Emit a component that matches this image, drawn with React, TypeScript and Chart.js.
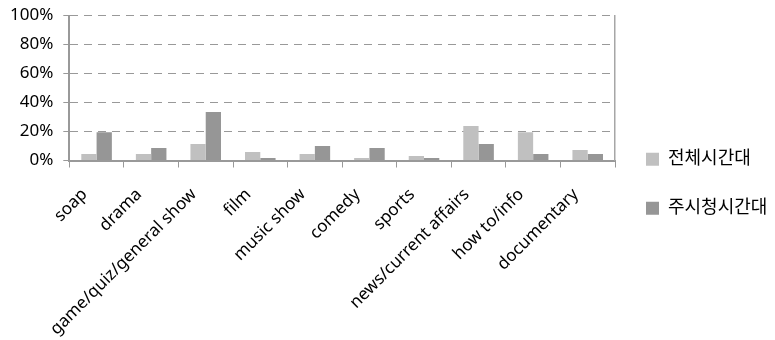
import React, { useEffect, useRef } from "react";
import { Chart, registerables } from "chart.js";

Chart.register(...registerables);

const CATEGORIES = [
  "soap",
  "drama",
  "game/quiz/general show",
  "film",
  "music show",
  "comedy",
  "sports",
  "news/current affairs",
  "how to/info",
  "documentary",
];
const SERIES_ALL_NAME = "전체시간대";
const SERIES_ALL = [4.5, 4.5, 11.4, 5.9, 4.5, 1.7, 3.1, 23.8, 19.4, 7.2];
const SERIES_PRIME_NAME = "주시청시간대";
const SERIES_PRIME = [19.4, 8.6, 33.4, 1.7, 10, 8.6, 1.7, 11.4, 4.5, 4.5];
const Y_MAX = 100;
const Y_STEP = 20;

const FONT_FAMILY = "'Noto Sans', 'Noto Sans CJK KR', sans-serif";

export default function App() {
  const canvasRef = useRef<HTMLCanvasElement | null>(null);

  useEffect(() => {
    if (!canvasRef.current) return;
    const chart = new Chart(canvasRef.current, {
      type: "bar",
      data: {
        labels: CATEGORIES,
        datasets: [
          {
            label: SERIES_ALL_NAME,
            data: SERIES_ALL,
            xAxisID: "x",
            yAxisID: "y",
            backgroundColor: "#c0c0c0",
            borderWidth: 0,
            categoryPercentage: 0.56,
            barPercentage: 1,
          },
          {
            label: SERIES_PRIME_NAME,
            data: SERIES_PRIME,
            xAxisID: "x",
            yAxisID: "y",
            backgroundColor: "#969696",
            borderWidth: 0,
            categoryPercentage: 0.56,
            barPercentage: 1,
          },
        ],
      },
      options: {
        responsive: false,
        animation: false,
        layout: { padding: { left: 0, top: 15.5, right: 0, bottom: 0 } },
        font: { family: FONT_FAMILY, size: 17 },
        plugins: {
          tooltip: { enabled: false },
          legend: {
            position: "right",
            align: "center",
            maxWidth: 160,
            title: { display: true, text: "", font: { size: 10 }, padding: 0 },
            labels: {
              boxWidth: 13,
              boxHeight: 13,
              padding: 31,
              color: "#000",
              font: { family: FONT_FAMILY, size: 18 },
            },
          },
        },
        scales: {
          x: {
            type: "category",
            afterFit: (scale: any) => {
              scale.height = 179.5;
            },
            grid: {
              display: true,
              drawOnChartArea: false,
              drawTicks: true,
              tickLength: 7,
              color: "#999",
              tickColor: "#999",
              offset: true,
            },
            border: { display: true, color: "#999", width: 2 },
            ticks: {
              minRotation: 45,
              maxRotation: 45,
              autoSkip: false,
              padding: 17,
              labelOffset: -12,
              color: "#000",
              font: { family: FONT_FAMILY, size: 17 },
            },
          },
          y: {
            type: "linear",
            min: 0,
            max: Y_MAX,
            afterFit: (scale: any) => {
              scale.paddingTop = 0;
              scale.paddingBottom = 0;
            },
            grid: {
              color: "#999",
              tickColor: "#999",
              tickLength: 6,
              drawTicks: true,
              tickBorderDash: [100, 0],
            },
            border: { display: true, color: "#999", width: 2, dash: [8, 6] },
            ticks: {
              stepSize: Y_STEP,
              padding: 10,
              color: "#000",
              font: { family: FONT_FAMILY, size: 17 },
              callback: (v: any) => v + "%",
            },
          },
          yRight: {
            type: "linear",
            position: "right",
            display: true,
            min: 0,
            max: Y_MAX,
            afterFit: (scale: any) => {
              scale.paddingTop = 0;
              scale.paddingBottom = 0;
            },
            ticks: { display: false },
            grid: { display: false, drawTicks: false },
            border: { display: true, color: "#a6a6a6", width: 1.5 },
          },
        },
      },
    });
    return () => chart.destroy();
  }, []);

  return (
    <div style={{ position: "fixed", left: 0, top: 0, width: 775, height: 340, background: "#fff" }}>
      <canvas ref={canvasRef} width={775} height={340} />
    </div>
  );
}
